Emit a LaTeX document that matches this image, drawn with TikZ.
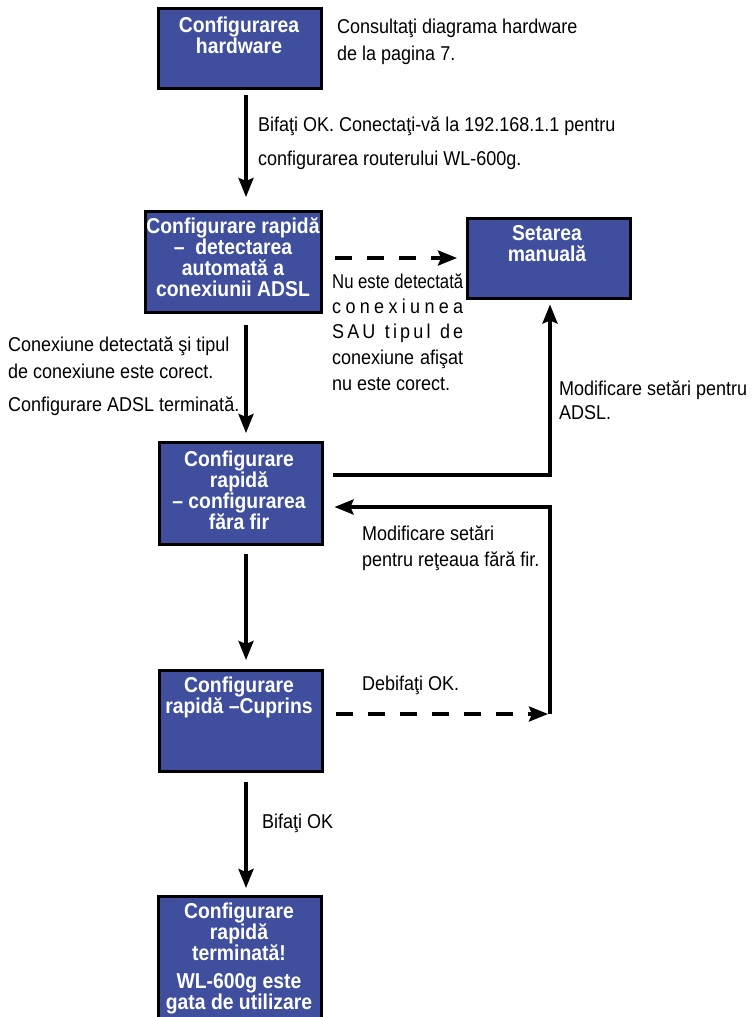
\documentclass[tikz,border=0pt]{standalone}
\usepackage{fontspec}
\usepackage{graphicx}
\setmainfont{Liberation Sans}[FakeStretch=0.9]
\usetikzlibrary{arrows.meta}
\definecolor{boxblue}{RGB}{63,79,158}
\begin{document}
\begin{tikzpicture}[x=1pt,y=-1pt,
  box/.style={draw=black,line width=2.5pt,fill=boxblue,inner sep=0,anchor=north west},
  btxt/.style={text=white,font=\fontsize{21.5}{21}\selectfont\bfseries,align=center,inner sep=0},
  txt/.style={font=\fontsize{20}{22}\selectfont,inner sep=0,anchor=base west},
  arr/.style={line width=3.5pt,-{Stealth[length=19pt,width=15pt,inset=3pt]}},
  dsh/.style={arr,dash pattern=on 17pt off 15pt},
  ln/.style={line width=3.5pt}]
\useasboundingbox (0,0) rectangle (752,1017);

% boxes
\node[box,minimum width=163pt,minimum height=80pt] (b1) at (157,7) {};
\node[box,minimum width=176pt,minimum height=101pt] (b2) at (144,210) {};
\node[box,minimum width=163pt,minimum height=80pt] (b3) at (466,217) {};
\node[box,minimum width=163pt,minimum height=102pt] (b4) at (158,441) {};
\node[box,minimum width=163pt,minimum height=101pt] (b5) at (158,669) {};
\node[box,minimum width=163pt,minimum height=140pt] (b6) at (157,895) {};

% box texts
\node[btxt] (b1t) at (239,35) {Configurarea\\hardware};
\node[btxt] (b2t) at (233,257) {Configurare rapidă\\–\ \ detectarea\\automată a\\conexiunii ADSL};
\node[btxt] (b3t) at (547,244) {Setarea\\manuală};
\node[btxt] (b4t) at (239,490) {Configurare\\rapidă\\– configurarea\\făra fir};
\node[btxt] (b5t) at (239,697) {Configurare\\rapidă –Cuprins};
\node[btxt] (b6t) at (239,958) {Configurare\\rapidă\\terminată!\\[7pt]WL-600g este\\gata de utilizare};

% side texts
\node[txt] (c1) at (337,33) {Consultaţi diagrama hardware};
\node[txt] (c2) at (337,60) {de la pagina 7.};
\node[txt] (o1) at (258,131) {Bifaţi OK. Conectaţi-vă la 192.168.1.1 pentru};
\node[txt] (o2) at (258,165) {configurarea routerului WL-600g.};
\node[txt] (l1) at (8,351) {Conexiune detectată şi tipul};
\node[txt] (l2) at (8,378) {de conexiune este corect.};
\node[txt] (l3) at (8,411) {Configurare ADSL terminată.};
\node[txt] (n1) at (332,288) {\resizebox{131pt}{\height}{Nu este detectată}};
\node[txt] (n2) at (332,313) {\makebox[131pt][s]{c\hfill o\hfill n\hfill e\hfill x\hfill i\hfill u\hfill n\hfill e\hfill a}};
\node[txt] (n3) at (332,338) {\makebox[131pt][s]{S\hfill A\hfill U\hfill\hfill\hfill t\hfill i\hfill p\hfill u\hfill l\hfill\hfill\hfill d\hfill e}};
\node[txt] (n4) at (332,364) {\makebox[131pt][s]{conexiune afişat}};
\node[txt] (n5) at (332,390) {nu este corect.};
\node[txt] (m1) at (559,395) {Modificare setări pentru};
\node[txt] (m2) at (559,419) {ADSL.};
\node[txt] (w1) at (362,540) {Modificare setări};
\node[txt] (w2) at (362,566) {pentru reţeaua fără fir.};
\node[txt] (d1) at (362,690) {Debifaţi OK.};
\node[txt] (k1) at (262,828) {Bifaţi OK};

% helper coordinates
\coordinate (col) at (246,0);
\coordinate (rx) at (550,0);
\coordinate (yA) at (0,258);
\coordinate (yB) at (0,475);
\coordinate (yC) at (0,507);
\coordinate (yD) at (0,714);

% connectors
\draw[arr,shorten <=5pt,shorten >=13pt] (b1.south -| col) -- (b2.north -| col);
\draw[arr,shorten <=11pt,shorten >=8pt] (b2.south -| col) -- (b4.north -| col);
\draw[arr,shorten <=8pt,shorten >=9pt] (b4.south -| col) -- (b5.north -| col);
\draw[arr,shorten <=9pt,shorten >=7pt] (b5.south -| col) -- (b6.north -| col);
\draw[dsh,shorten <=12pt,shorten >=9pt] (b2.east |- yA) -- (b3.west |- yA);
\draw[arr,shorten <=9pt,shorten >=5pt] (b4.east |- yB) -- (rx |- yB) -- (b3.south -| rx);
\draw[dsh,shorten <=12pt,shorten >=2pt] (b5.east |- yD) -- (rx |- yD);
\draw[arr,shorten >=11pt] (rx |- yD) -- (rx |- yC) -- (b4.east |- yC);
\end{tikzpicture}
\end{document}
